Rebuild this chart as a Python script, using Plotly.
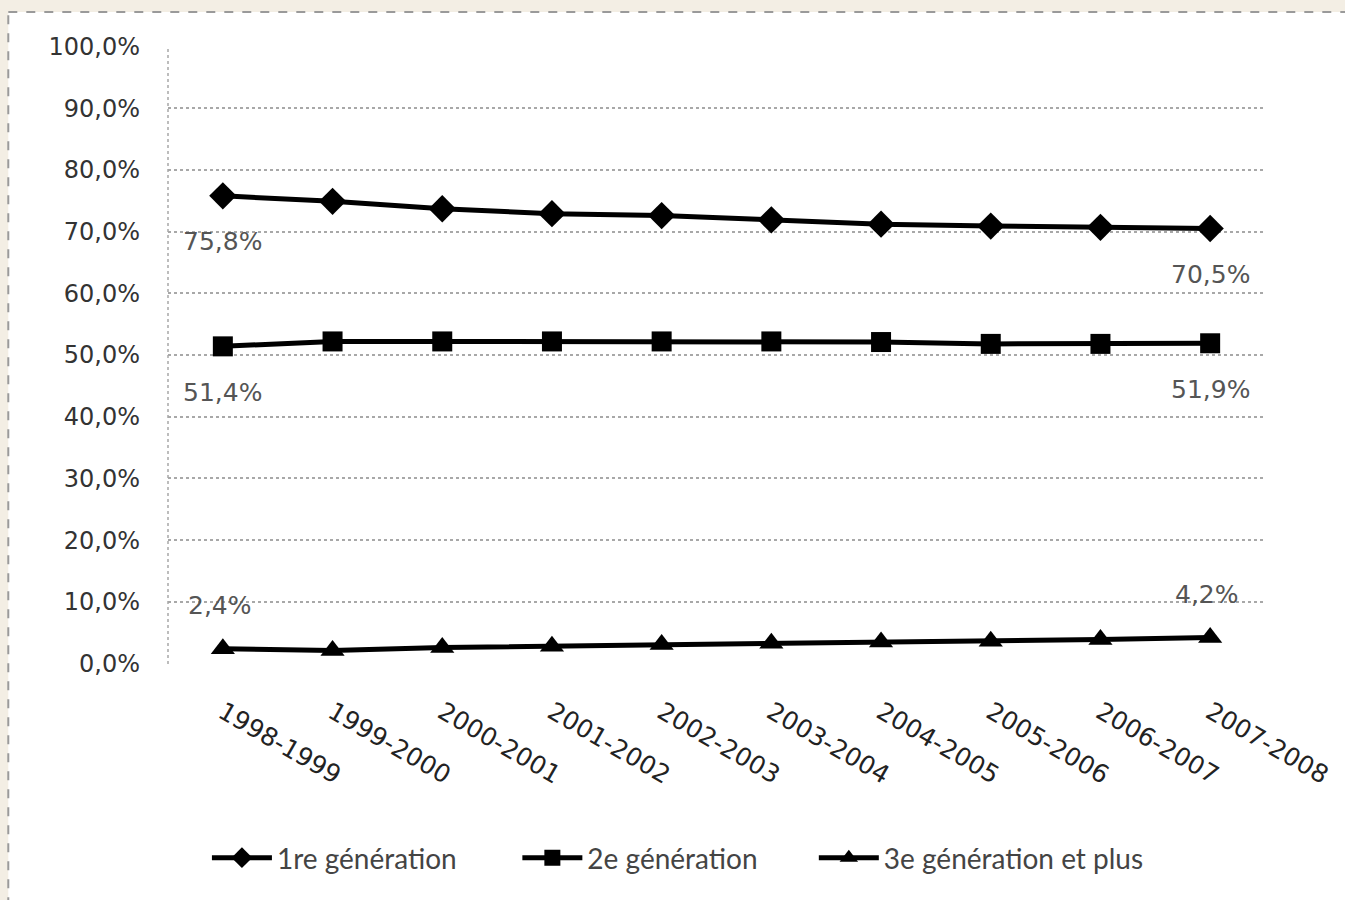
import plotly.graph_objects as go

# School years
years = ["1998-1999", "1999-2000", "2000-2001", "2001-2002", "2002-2003",
         "2003-2004", "2004-2005", "2005-2006", "2006-2007", "2007-2008"]

# Share of students by generation (%)
gen1 = [75.8, 74.9, 73.7, 72.9, 72.6, 71.9, 71.2, 70.9, 70.7, 70.5]
gen2 = [51.4, 52.2, 52.2, 52.2, 52.2, 52.2, 52.1, 51.8, 51.8, 51.9]
gen3 = [2.4, 2.1, 2.6, 2.8, 3.1, 3.3, 3.5, 3.6, 3.9, 4.2]

series_names = ["1re génération", "2e génération", "3e génération et plus"]
y_ticks = [0, 10, 20, 30, 40, 50, 60, 70, 80, 90, 100]
y_ticktext = ["0,0%", "10,0%", "20,0%", "30,0%", "40,0%", "50,0%",
              "60,0%", "70,0%", "80,0%", "90,0%", "100,0%"]

W, H = 1345, 900
L, R, T, B = 168, 78, 46, 236
pw, ph = W - L - R, H - T - B

fig = go.Figure()
symbols = ["diamond", "square", "triangle-up"]
sizes = [21, 20, 21]
legend_ids = ["legend", "legend2", "legend3"]
legend_left_px = [207, 518, 815]
for name, vals, sym, sz, lg in zip(series_names, [gen1, gen2, gen3], symbols, sizes, legend_ids):
    fig.add_trace(go.Scatter(
        x=years, y=vals, name=name, mode="lines+markers",
        line=dict(color="black", width=5),
        marker=dict(symbol=sym, size=sz, color="black"),
        legend=lg,
    ))

def fmt(v):
    return f"{v:.1f}".replace(".", ",") + "%"

# First/last value labels
annotations = []
for vals, shift in [(gen1, -46), (gen2, -46), (gen3, 43)]:
    for i in (0, len(vals) - 1):
        annotations.append(dict(
            x=years[i], y=vals[i], text=fmt(vals[i]), showarrow=False,
            yshift=shift, xshift=(-3 if shift > 0 else 0),
            font=dict(family="DejaVu Sans", size=25, color="#555555"),
        ))

# White panel, its dashed frame and the dotted value axis
x0 = (8 - L) / pw
y1 = (H - B - 12) / ph
x1 = (W - L) / pw
y0 = -B / ph
shapes = [
    dict(type="rect", xref="paper", yref="paper", x0=x0, x1=x1 + 0.01, y0=y0 - 0.01, y1=y1,
         fillcolor="white", line=dict(width=0), layer="below"),
    dict(type="line", xref="paper", yref="paper", x0=x0, x1=x1 + 0.01, y0=y1, y1=y1,
         line=dict(color="#9a9a9a", width=2, dash="dash"), layer="below"),
    dict(type="line", xref="paper", yref="paper", x0=x0, x1=x0, y0=y0 - 0.01, y1=y1,
         line=dict(color="#9a9a9a", width=2, dash="dash"), layer="below"),
    dict(type="line", xref="paper", yref="paper", x0=0, x1=0, y0=0, y1=1,
         line=dict(color="#a8a8a8", width=1.5, dash="dot"), layer="below"),
]

legend_style = dict(
    orientation="h", xanchor="left", y=(H - B - 858) / ph, yanchor="middle",
    font=dict(family="Lato", size=28, color="#444444"),
    itemwidth=60, bgcolor="rgba(0,0,0,0)",
)
legends = {lg: dict(legend_style, x=(px - L) / pw) for lg, px in zip(legend_ids, legend_left_px)}

fig.update_layout(
    width=W, height=H,
    margin=dict(l=L, r=R, t=T, b=B),
    paper_bgcolor="#f3eee4",
    plot_bgcolor="rgba(0,0,0,0)",
    showlegend=True,
    **legends,
    xaxis=dict(
        type="category", range=[-0.5, len(years) - 0.5],
        showgrid=False, zeroline=False, showline=False,
        tickangle=30, ticks="", ticklabelstandoff=28,
        tickfont=dict(family="DejaVu Sans", size=25, color="#222222"),
    ),
    yaxis=dict(
        range=[-0.08, 100.08], tickvals=y_ticks, ticktext=y_ticktext,
        showgrid=True, gridcolor="#a8a8a8", gridwidth=1.5, griddash="dot",
        zeroline=False, showline=False,
        ticks="", ticklabelstandoff=27,
        tickfont=dict(family="DejaVu Sans", size=24, color="#333333"),
    ),
    annotations=annotations,
    shapes=shapes,
)

fig.write_html("out.html")
